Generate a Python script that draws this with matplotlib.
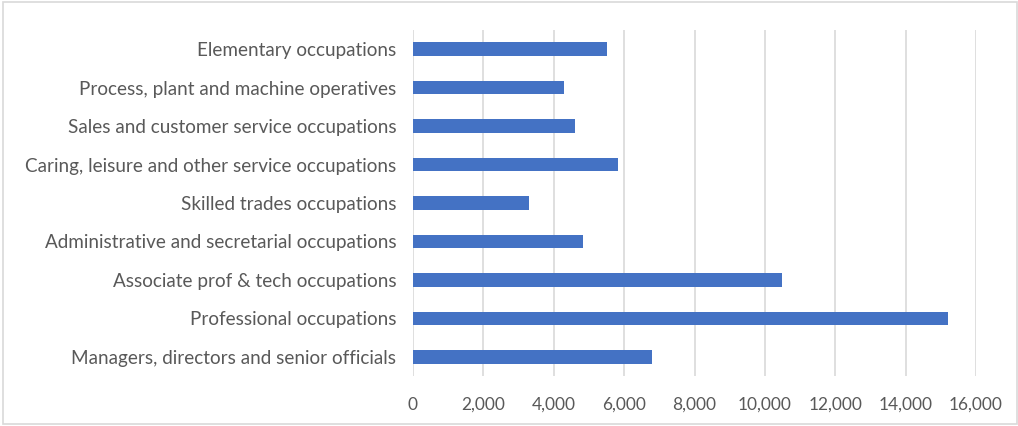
import matplotlib.pyplot as plt
from matplotlib.patches import Rectangle
from matplotlib.ticker import FuncFormatter

occupations = ['Managers, directors and senior officials', 'Professional occupations',
               'Associate prof & tech occupations', 'Administrative and secretarial occupations',
               'Skilled trades occupations', 'Caring, leisure and other service occupations',
               'Sales and customer service occupations', 'Process, plant and machine operatives',
               'Elementary occupations']
counts = [6800, 15200, 10500, 4820, 3300, 5830, 4600, 4300, 5510]
x_ticks = [0, 2000, 4000, 6000, 8000, 10000, 12000, 14000, 16000]

plt.rcParams['font.family'] = ['Lato', 'DejaVu Sans']

fig = plt.figure(figsize=(10.18, 4.26), dpi=100)
ax = fig.add_axes([413 / 1018, 1 - 376 / 426, (976 - 413) / 1018, (376 - 30) / 426])

ax.barh(range(len(occupations)), counts, height=0.35, color='#4472C4', zorder=3)
ax.set_yticks(range(len(occupations)))
ax.set_yticklabels(occupations)
ax.set_ylim(-0.5, len(occupations) - 0.5)
ax.set_xlim(0, 16000)
ax.set_xticks(x_ticks)
ax.xaxis.set_major_formatter(FuncFormatter(lambda v, p: f'{int(v):,}'))
ax.grid(axis='x', color='#d9d9d9', linewidth=1.2, zorder=0)
for s in ax.spines.values():
    s.set_visible(False)
ax.tick_params(axis='both', length=0, colors='#595959')
ax.tick_params(axis='y', pad=12, labelsize=13.6)
ax.tick_params(axis='x', pad=15, labelsize=12.5)

fig.patches.append(Rectangle((3 / 1018, 2 / 426), 1 - 4 / 1018, 1 - 4 / 426, transform=fig.transFigure,
                             fill=False, edgecolor='#d9d9d9', linewidth=1.2))

fig.savefig('out.png', dpi=100)
